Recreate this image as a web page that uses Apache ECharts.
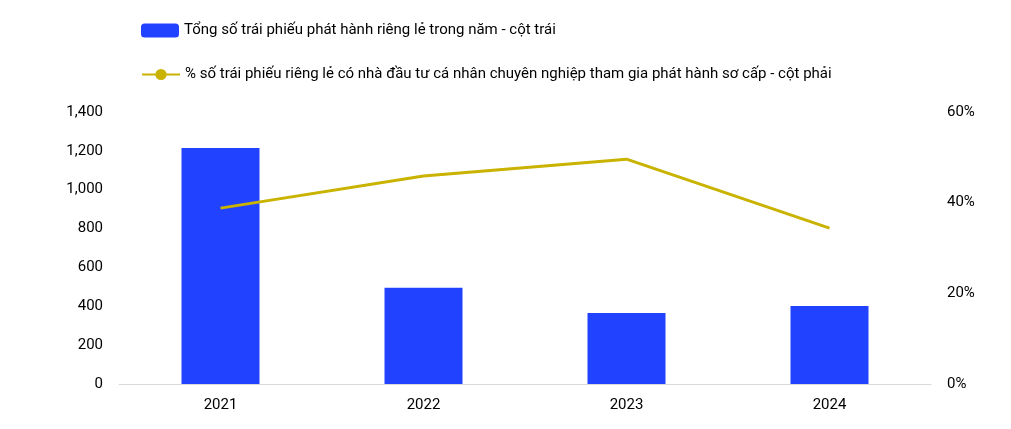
<!DOCTYPE html><html><head><meta charset="utf-8"><script src="https://cdn.jsdelivr.net/npm/echarts@6/dist/echarts.min.js"></script></head><body style="margin:0"><div id="c" style="width:1011px;height:429px"></div><script>
const categories=['2021','2022','2023','2024'];
const bondCount=[1215,495,365,402];
const pctProfessional=[38.8,45.9,49.6,34.4];
const barName='Tổng số trái phiếu phát hành riêng lẻ trong năm - cột trái';
const lineName='% số trái phiếu riêng lẻ có nhà đầu tư cá nhân chuyên nghiệp tham gia phát hành sơ cấp - cột phải';
const ch=echarts.init(document.getElementById('c'));
const txt={fontFamily:'Roboto',fontSize:15,color:'#000'};
ch.setOption({animation:false,textStyle:{fontFamily:'Roboto'},
legend:[{data:[barName],left:136,top:18,itemWidth:38,itemHeight:14,textStyle:txt},
{data:[lineName],left:136,top:62,itemWidth:38,itemHeight:14,textStyle:txt}],
grid:{left:119,right:80,top:112,bottom:45},
xAxis:{type:'category',data:categories,axisTick:{show:false},axisLine:{lineStyle:{color:'#d9d9d9'}},axisLabel:{...txt,margin:14}},
yAxis:[{type:'value',min:0,max:1400,interval:200,splitLine:{show:false},axisLabel:{...txt,margin:16,formatter:v=>v.toLocaleString('en-US')}},
{type:'value',min:0,max:60,interval:20,splitLine:{show:false},axisLabel:{...txt,margin:16,formatter:'{value}%'}}],
series:[{name:barName,type:'bar',data:bondCount,barWidth:78,itemStyle:{color:'#2143ff'}},
{name:lineName,type:'line',yAxisIndex:1,data:pctProfessional,symbol:'none',lineStyle:{color:'#c9b300',width:3},itemStyle:{color:'#c9b300'}}]});
</script></body></html>
